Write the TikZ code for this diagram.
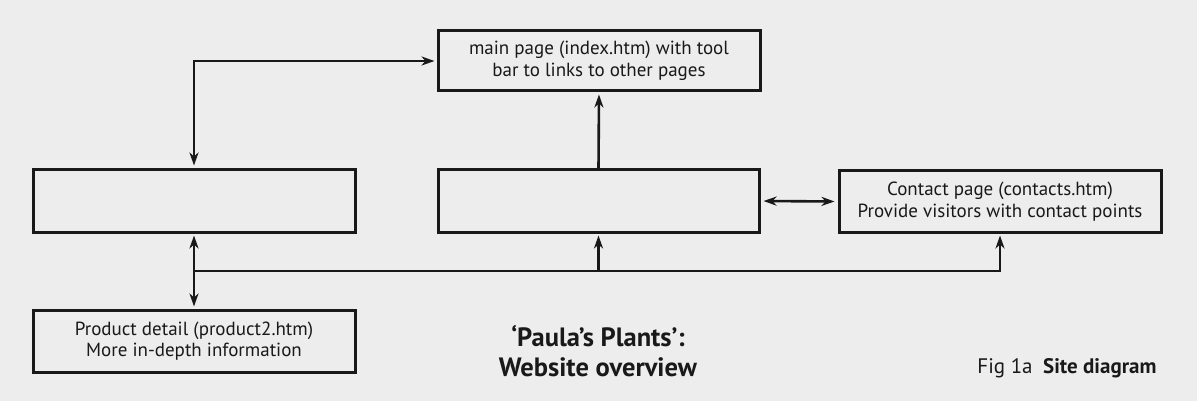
\documentclass[tikz,border=0pt]{standalone}
\usepackage{fontspec}
\setmainfont{PT Sans}
\usetikzlibrary{arrows.meta}
\tikzset{
  tip/.tip={Stealth[length=13pt,width=9pt,inset=4pt]},
  pagebox/.style={draw=black!90, line width=3pt, inner sep=0pt, align=center,
    font=\fontsize{19}{21.5}\selectfont, text=black!90},
  conn/.style={draw=black!90, line width=2.6pt, arrows={-tip}},
  dconn/.style={draw=black!90, line width=2.6pt, arrows={tip-tip}}
}
\begin{document}
\begin{tikzpicture}[x=1pt,y=-1pt]
\fill[black!7] (0,0) rectangle (1197,401);
\useasboundingbox (0,0) rectangle (1197,401);
\node[pagebox, minimum width=322pt, minimum height=60pt] (main) at (599,61) {main page (index.htm) with tool\\bar to links to other pages};
\node[pagebox, minimum width=322pt, minimum height=62pt] (left) at (194,201) {};
\node[pagebox, minimum width=321pt, minimum height=62pt] (mid) at (598.5,201) {};
\node[pagebox, minimum width=322pt, minimum height=61pt] (contact) at (1000,201.5) {Contact page (contacts.htm)\\Provide visitors with contact points};
\node[pagebox, minimum width=322pt, minimum height=62pt] (prod) at (194,341) {Product detail (product2.htm)\\More in-depth information};
\coordinate (bus) at (194,271);
\draw[dconn, shorten <=2pt, shorten >=3pt] (main.west) -| (left.north);
\draw[conn, shorten >=2pt] (mid.north) -- (main.south);
\draw[dconn, shorten <=2pt, shorten >=2pt] (left.south) -- (prod.north);
\draw[conn, shorten >=2pt] (bus) -| (contact.south);
\draw[conn, shorten >=2pt] (bus -| mid.south) -- (mid.south);
\draw[dconn, shorten <=3pt, shorten >=3pt] (mid.east) -- (contact.west);
\node[align=center, font=\fontsize{26.5}{30}\selectfont\bfseries, text=black!90] (title) at (598,351) {‘Paula’s Plants’:\\Website overview};
\node[anchor=base east, font=\fontsize{21}{24}\selectfont, text=black!90] (fig) at (1160,373) {Fig 1a\enspace\textbf{Site diagram}};
\end{tikzpicture}
\end{document}
